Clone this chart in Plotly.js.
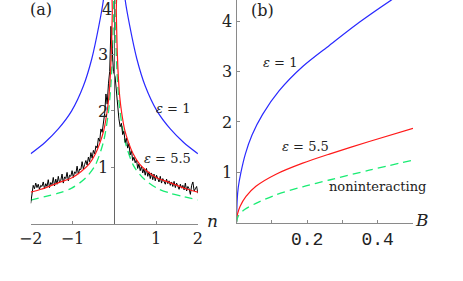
<!DOCTYPE html>
<html>
<head>
<meta charset="utf-8">
<script src="https://cdn.plot.ly/plotly-3.0.1.min.js"></script>
<style>html,body{margin:0;padding:0;background:#fff;}#chart{width:463px;height:281px;}</style>
</head>
<body>
<div id="chart"></div>
<script>
// ---- Panel (a): n axis ----
const nBlue = [-2, -1.66, -1.34, -1.02, -0.74, -0.54, -0.366, -0.26, -0.2, 0.2, 0.26, 0.366, 0.54, 0.74, 1.02, 1.34, 1.66, 2];
const vBlue = [1.24, 1.44, 1.68, 2.0, 2.44, 2.92, 3.52, 3.97, 4.5, 4.5, 3.97, 3.52, 2.92, 2.44, 2.0, 1.68, 1.44, 1.24];

const nRed = [-2, -1.75, -1.5, -1.25, -1.0, -0.8, -0.6, -0.45, -0.35, -0.25, -0.18, -0.13, -0.09, -0.065, -0.048, -0.035,
              0.035, 0.048, 0.065, 0.09, 0.13, 0.18, 0.25, 0.35, 0.45, 0.6, 0.8, 1.0, 1.25, 1.5, 1.75, 2];
const vRed = [0.56, 0.61, 0.68, 0.75, 0.82, 0.92, 1.06, 1.24, 1.42, 1.66, 1.95, 2.25, 2.7, 3.2, 3.75, 4.4,
              4.4, 3.75, 3.2, 2.7, 2.25, 1.95, 1.66, 1.42, 1.24, 1.06, 0.92, 0.82, 0.75, 0.68, 0.61, 0.56];

const nGreen = [-2, -1.66, -1.34, -1.02, -0.7, -0.46, -0.26, -0.143, -0.079, -0.031, -0.016, -0.012,
                0.012, 0.016, 0.031, 0.079, 0.143, 0.26, 0.46, 0.7, 1.02, 1.34, 1.66, 2];
const vGreen = [0.42, 0.48, 0.54, 0.63, 0.80, 1.03, 1.45, 1.96, 2.49, 3.38, 4.0, 4.6,
                4.6, 4.0, 3.38, 2.49, 1.96, 1.45, 1.03, 0.80, 0.63, 0.54, 0.48, 0.42];

const nData = [-2.00,-1.97,-1.94,-1.91,-1.88,-1.85,-1.82,-1.79,-1.76,-1.73,-1.70,-1.67,-1.64,-1.61,-1.58,-1.55,-1.52,-1.49,-1.46,-1.43,
               -1.40,-1.37,-1.34,-1.31,-1.28,-1.25,-1.22,-1.19,-1.16,-1.13,-1.10,-1.07,-1.04,-1.01,-0.98,-0.95,-0.92,-0.89,-0.86,-0.83,
               -0.80,-0.77,-0.74,-0.71,-0.68,-0.65,-0.62,-0.59,-0.56,-0.53,-0.50,-0.47,-0.44,-0.41,-0.38,-0.35,-0.32,-0.29,-0.26,-0.23,
               -0.20,-0.17,-0.14,-0.11,-0.08,-0.05,-0.02,
               0.02,0.05,0.08,0.11,0.14,0.17,0.20,0.23,0.26,0.29,0.32,0.35,0.38,0.41,0.44,0.47,0.50,0.53,0.56,0.59,
               0.62,0.65,0.68,0.71,0.74,0.77,0.80,0.83,0.86,0.89,0.92,0.95,0.98,1.01,1.04,1.07,1.10,1.13,1.16,1.19,
               1.22,1.25,1.28,1.31,1.34,1.37,1.40,1.43,1.46,1.49,1.52,1.55,1.58,1.61,1.64,1.67,1.70,1.73,1.76,1.79,
               1.82,1.85,1.88,1.91,1.94,1.97,2.00];
const vData = [0.36,0.58,0.68,0.62,0.72,0.64,0.70,0.61,0.68,0.66,0.74,0.62,0.71,0.66,0.78,0.64,0.73,0.69,0.82,0.67,
               0.79,0.70,0.84,0.73,0.77,0.88,0.72,0.83,0.80,0.91,0.76,0.86,0.84,0.94,0.82,0.92,0.89,1.02,0.88,0.97,
               0.96,1.10,0.97,1.05,1.12,1.04,1.18,1.10,1.26,1.16,1.30,1.24,1.38,1.34,1.52,1.46,1.68,1.62,1.80,1.96,
               2.30,2.12,2.48,2.70,3.50,2.95,2.70,
               2.60,2.30,2.05,1.86,1.72,1.78,1.58,1.64,1.44,1.52,1.34,1.42,1.22,1.30,1.12,1.18,1.08,1.14,0.98,1.06,
               0.94,1.02,0.90,0.97,0.86,0.98,0.84,0.92,0.80,0.90,0.78,0.88,0.76,0.86,0.80,0.74,0.84,0.72,0.80,0.76,
               0.70,0.79,0.71,0.76,0.68,0.74,0.66,0.75,0.64,0.72,0.66,0.61,0.70,0.63,0.68,0.60,0.72,0.58,0.66,0.62,
               0.52,0.68,0.74,0.58,0.62,0.66,0.54];

// ---- Panel (b): B axis ----
const bBlue = [0, 0.002, 0.005, 0.0127, 0.025, 0.044, 0.074, 0.121, 0.1875, 0.263, 0.348, 0.438, 0.46];
const wBlue = [0, 0.46, 0.70, 1.0, 1.36, 1.74, 2.15, 2.62, 3.10, 3.52, 3.98, 4.42, 4.52];
const bRed = [0, 0.003, 0.01, 0.027, 0.055, 0.112, 0.1875, 0.263, 0.376, 0.5];
const wRed = [0, 0.17, 0.32, 0.52, 0.72, 0.96, 1.18, 1.36, 1.61, 1.87];
const bGreen = [0, 0.005, 0.023, 0.055, 0.112, 0.1875, 0.263, 0.376, 0.5];
const wGreen = [0, 0.13, 0.26, 0.38, 0.55, 0.71, 0.845, 1.04, 1.24];

const aTicks = [-2, -1, 1, 2];
const aTickText = ['\u22122', '\u22121', '1', '2'];
const aYTicks = [1, 2, 3, 4];
const bTicks = [0.1, 0.2, 0.3, 0.4];
const bTickText = ['', '0.2', '', '0.4'];
const bYTicks = [1, 2, 3, 4];

const W = 463, H = 281;
const px = x => x / W, py = y => 1 - y / H;

const BLUE = '#2a2aff', RED = '#ff1a1a', GREEN = '#19ec73';
const serif = 'DejaVu Serif';
const mono = 'Liberation Mono';

const traces = [
  {x: nBlue, y: vBlue, xaxis: 'x', yaxis: 'y', mode: 'lines', line: {color: BLUE, width: 1.2, shape: 'spline', smoothing: 0.8}},
  {x: nGreen, y: vGreen, xaxis: 'x', yaxis: 'y', mode: 'lines', line: {color: GREEN, width: 1.3, dash: '8px,5px', shape: 'spline', smoothing: 0.8}},
  {x: nData, y: vData, xaxis: 'x', yaxis: 'y', mode: 'lines', line: {color: '#000', width: 1}},
  {x: nRed, y: vRed, xaxis: 'x', yaxis: 'y', mode: 'lines', line: {color: RED, width: 1.2, shape: 'spline', smoothing: 0.8}},
  {x: bBlue, y: wBlue, xaxis: 'x2', yaxis: 'y2', mode: 'lines', line: {color: BLUE, width: 1.2, shape: 'spline', smoothing: 0.8}},
  {x: bRed, y: wRed, xaxis: 'x2', yaxis: 'y2', mode: 'lines', line: {color: RED, width: 1.2, shape: 'spline', smoothing: 0.8}},
  {x: bGreen, y: wGreen, xaxis: 'x2', yaxis: 'y2', mode: 'lines', line: {color: GREEN, width: 1.3, dash: '8px,5px', shape: 'spline', smoothing: 0.8}}
];

const axColor = '#8a8a8a';
const tickFont = {family: serif, size: 16, color: '#222'};

const ann = (x, y, text, size) => ({
  xref: 'paper', yref: 'paper', x: px(x), y: py(y), text: text, showarrow: false,
  xanchor: 'center', yanchor: 'middle', font: {family: serif, size: size, color: '#222'}
});

const layout = {
  width: W, height: H,
  margin: {l: 0, r: 0, t: 0, b: 0, pad: 0},
  paper_bgcolor: '#fff', plot_bgcolor: 'rgba(0,0,0,0)',
  showlegend: false,
  font: {family: serif},
  xaxis: {
    domain: [px(30.7), px(197.9)], range: [-2, 2], anchor: 'y',
    showline: true, linecolor: axColor, linewidth: 1, showgrid: false, zeroline: false,
    tickmode: 'array', tickvals: aTicks, ticktext: aTickText,
    ticks: 'inside', ticklen: 3, tickcolor: axColor, tickfont: tickFont
  },
  yaxis: {
    domain: [1 - 223.7 / H, 1], range: [0, 223.7 / 56.4], anchor: 'free', position: px(114.3),
    showline: true, linecolor: '#666', linewidth: 1, showgrid: false, zeroline: false,
    tickmode: 'array', tickvals: aYTicks,
    ticks: 'outside', ticklen: 3, tickcolor: axColor, tickfont: tickFont
  },
  xaxis2: {
    domain: [px(236.5), px(413)], range: [0, 0.5], anchor: 'y2',
    showline: true, linecolor: axColor, linewidth: 1, showgrid: false, zeroline: false,
    tickmode: 'array', tickvals: bTicks, ticktext: bTickText,
    ticks: 'inside', ticklen: 3, tickcolor: axColor, tickfont: {family: mono, size: 18, color: '#222'}
  },
  yaxis2: {
    domain: [1 - 222.5 / H, 1], range: [0, 222.5 / 50.3], anchor: 'x2',
    showline: true, linecolor: axColor, linewidth: 1, showgrid: false, zeroline: false,
    tickmode: 'array', tickvals: bYTicks,
    ticks: 'inside', ticklen: 3, tickcolor: axColor, tickfont: tickFont
  },
  annotations: [
    ann(41, 10, '(a)', 16),
    ann(262, 11, '(b)', 16),
    ann(107, 10, '4', 16),
    ann(212, 221, '<i>n</i>', 17),
    ann(421.5, 220, '<i>B</i>', 17),
    ann(173, 109, '<i>\u03b5</i> = 1', 13),
    ann(167, 158, '<i>\u03b5</i> = 5.5', 13),
    ann(280, 62.5, '<i>\u03b5</i> = 1', 13),
    ann(305, 146, '<i>\u03b5</i> = 5.5', 13),
    ann(377, 186, 'noninteracting', 13)
  ]
};

Plotly.newPlot('chart', traces, layout, {staticPlot: true, displayModeBar: false});
</script>
</body>
</html>
